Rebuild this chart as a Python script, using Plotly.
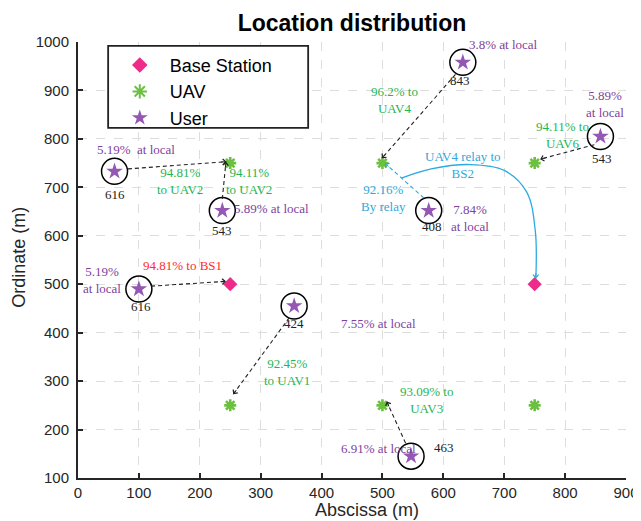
import math
import plotly.graph_objects as go

# ---------------- data ----------------
bs_x = [250, 750]
bs_y = [500, 500]

uav_x = [250, 500, 750, 250, 500, 750]
uav_y = [750, 750, 750, 250, 250, 250]

user_x = [60, 237, 100, 355, 632, 858, 576, 547]
user_y = [733, 652, 490, 455, 958, 805, 652, 145]

# labels: (text, x, y, colour-key)
labels = [
    ("5.19%  at local", 95, 779, "purple"),
    ("616", 60, 686, "black"),
    ("94.81%<br>to UAV2", 167, 713, "green"),
    ("94.11%<br>to UAV2", 281, 713, "green"),
    ("5.89% at local", 317, 657, "purple"),
    ("543", 236, 610, "black"),
    ("94.81% to BS1", 172, 538, "red"),
    ("5.19%<br>at local", 39, 509, "purple"),
    ("616", 103, 455, "black"),
    ("424", 355, 418, "black"),
    ("7.55% at local", 494, 418, "purple"),
    ("92.45%<br>to UAV1", 343, 318, "green"),
    ("3.8% at local", 698, 994, "purple"),
    ("843", 627, 921, "black"),
    ("96.2% to<br>UAV4", 520, 880, "green"),
    ("5.89%<br>at local", 865, 872, "purple"),
    ("94.11% to<br>UAV6", 795, 808, "green"),
    ("543", 860, 760, "black"),
    ("UAV4 relay to<br>BS2", 632, 746, "cyan"),
    ("92.16%<br>By relay", 502, 678, "cyan"),
    ("408", 581, 620, "black"),
    ("7.84%<br>at local", 644, 637, "purple"),
    ("93.09% to<br>UAV3", 573, 261, "green"),
    ("6.91% at local", 494, 160, "purple"),
    ("463", 601, 162, "black"),
]

# straight dashed offload arrows: (x0, y0, x1, y1, colour-key)
arrows = [
    (82, 738, 244, 753, "black"),
    (237, 676, 243, 753, "black"),
    (120, 496, 243, 506, "black"),
    (347, 431, 255, 273, "black"),
    (620, 933, 499, 760, "black"),
    (848, 788, 759, 758, "black"),
    (568, 678, 504, 750, "cyan"),
    (538, 172, 507, 258, "black"),
]

# relay curve UAV4 -> BS2
relay_x = [531, 580, 644, 700, 737, 751, 752]
relay_y = [719, 738, 747, 735, 690, 610, 512]

colors = {
    "purple": "#7E3F9E",
    "green": "#1FB555",
    "red": "#FF2A2A",
    "cyan": "#2FA8DA",
    "black": "#222222",
}

X_RANGE = [0, 900]
Y_RANGE = [100, 1000]
# the page body adds an 8px offset, so the figure is 8px smaller
L, R, T, B = 70, 15, 34, 43
W, H = 633, 513
px_per_x = (W - L - R) / (X_RANGE[1] - X_RANGE[0])
px_per_y = (H - T - B) / (Y_RANGE[1] - Y_RANGE[0])

fig = go.Figure()

# circles around users
fig.add_trace(go.Scatter(
    x=user_x, y=user_y, mode="markers", showlegend=False, hoverinfo="skip",
    marker=dict(symbol="circle-open", size=26, color="black", line=dict(width=1.5, color="black")),
))

# dashed arrow lines
for x0, y0, x1, y1, c in arrows:
    fig.add_trace(go.Scatter(
        x=[x0, x1], y=[y0, y1], mode="lines", showlegend=False, hoverinfo="skip",
        line=dict(color=colors[c], width=1.1, dash="4px,3px"),
    ))

fig.add_trace(go.Scatter(
    x=relay_x, y=relay_y, mode="lines", showlegend=False, hoverinfo="skip",
    line=dict(color="#2BAAE2", width=1.3, shape="spline"),
))

# markers
fig.add_trace(go.Scatter(
    x=bs_x, y=bs_y, mode="markers", name="Base Station",
    marker=dict(symbol="diamond", size=11, color="#EE2A8A"),
))
fig.add_trace(go.Scatter(
    x=uav_x, y=uav_y, mode="markers", name="UAV",
    marker=dict(symbol="asterisk-open", size=10, color="#6CC040", line=dict(width=2.6, color="#6CC040")),
))
fig.add_trace(go.Scatter(
    x=user_x, y=user_y, mode="markers", name="User",
    marker=dict(symbol="star", size=12.5, color="#9458B4"),
))

annotations = []
# arrowheads
def head(x0, y0, x1, y1, col):
    dx = (x1 - x0) * px_per_x
    dy = (y1 - y0) * px_per_y
    n = math.hypot(dx, dy)
    ux, uy = dx / n, dy / n
    annotations.append(dict(
        x=x1, y=y1, xref="x", yref="y", ax=-ux * 7, ay=uy * 7, text="",
        showarrow=True, arrowhead=4, arrowsize=1.1, arrowwidth=1, arrowcolor=col,
    ))

for x0, y0, x1, y1, c in arrows:
    head(x0, y0, x1, y1, colors[c])
head(relay_x[-2], relay_y[-2], relay_x[-1], relay_y[-1], "#2BAAE2")

for t, x, y, c in labels:
    annotations.append(dict(
        x=x, y=y, xref="x", yref="y", text=t, showarrow=False,
        font=dict(family="Liberation Serif", size=13, color=colors[c]),
        align="center",
    ))

# axis titles (placed as in the reference)
annotations.append(dict(text="Abscissa (m)", xref="paper", yref="paper", x=0.527, y=0, yshift=-32,
                        xanchor="center", yanchor="middle", showarrow=False,
                        font=dict(family="Arial", size=18, color="#262626")))
annotations.append(dict(text="Ordinate (m)", xref="paper", yref="paper", x=0, xshift=-59, y=0.505,
                        xanchor="center", yanchor="middle", textangle=-90, showarrow=False,
                        font=dict(family="Arial", size=18, color="#262626")))

fig.update_layout(
    width=W, height=H,
    margin=dict(l=L, r=R, t=T, b=B, autoexpand=False),
    paper_bgcolor="white", plot_bgcolor="white",
    title=dict(text="<b>Location distribution</b>", x=0.5 + (L - R) / 2 / W, xanchor="center",
               y=1 - 15 / H, yanchor="middle",
               font=dict(family="Arial", size=23, color="black")),
    font=dict(family="Arial", color="#262626"),
    showlegend=True,
    legend=dict(x=0.058, y=0.989, xanchor="left", yanchor="top",
                bgcolor="rgba(0,0,0,0)", borderwidth=0, itemwidth=50,
                font=dict(family="Arial", size=18, color="black"),
                itemsizing="constant", tracegroupgap=0),
    annotations=annotations,
    shapes=[dict(type="rect", xref="paper", yref="paper", x0=0.055, x1=0.420, y0=0.803, y1=0.991,
                 line=dict(color="#222222", width=1.8), fillcolor="white", layer="above")],
)

axis_common = dict(dtick=100, showgrid=True, gridcolor="#DDDDDD", griddash="dash", gridwidth=1.3,
                   showline=True, linecolor="#262626", linewidth=2, ticks="inside", ticklen=5, tickwidth=1.5,
                   tickcolor="#262626", zeroline=False, automargin=False,
                   tickfont=dict(family="Arial", size=15, color="#262626"))
fig.update_xaxes(range=X_RANGE, ticklabeloverflow="allow", **axis_common)
fig.update_yaxes(range=Y_RANGE, ticklabelstandoff=4, **axis_common)

fig.write_html("out.html")
